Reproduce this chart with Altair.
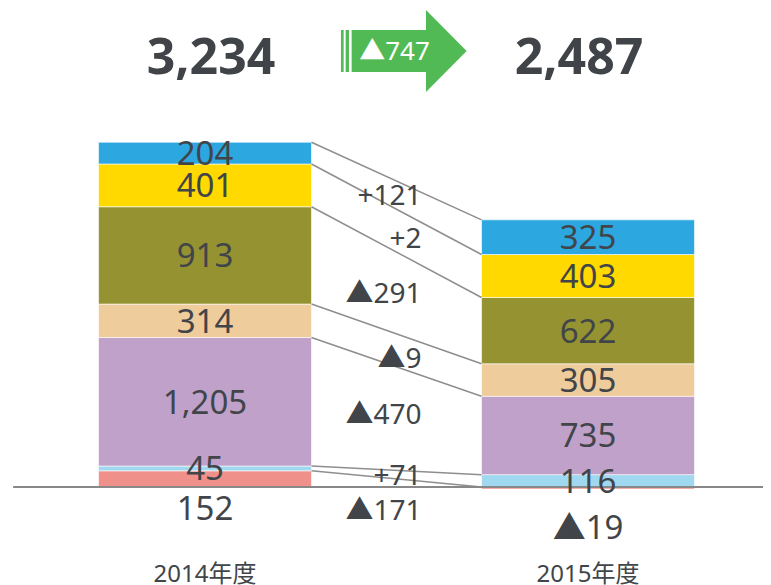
import altair as alt
import pandas as pd

# ---------------- data ----------------
categories = ["2014年度", "2015年度"]
segments = ["seg1", "seg2", "seg3", "seg4", "seg5", "seg6", "seg7"]  # bottom -> top
seg_colors = ["#F0908A", "#A0D8EF", "#C0A1C9", "#EFCC9B", "#959331", "#FFD900", "#2CA7E0"]
values_2014 = [152, 45, 1205, 314, 913, 401, 204]
values_2015 = [-19, 116, 735, 305, 622, 403, 325]

# ---------------- helpers ----------------
FONT = "Noto Sans, Noto Sans CJK JP, sans-serif"
TXT = "#414549"
PX_PER_UNIT = 0.1066          # vertical scale (px per unit), used only for label nudges
HALF = 0.278                  # half bar width in category-index units


def fmt(v, sign=False):
    s = f"{abs(v):,}"
    if v < 0:
        return "▲" + s
    return ("+" + s) if sign else s


series = [values_2014, values_2015]
rows = []
for ci, (cat, vals) in enumerate(zip(categories, series)):
    pos, neg = 0.0, 0.0
    for si, (seg, v) in enumerate(zip(segments, vals)):
        if v >= 0:
            y0, y1 = pos, pos + v
            pos = y1
        else:
            y0, y1 = neg, neg + v
            neg = y1
        rows.append(dict(cat=cat, ci=ci, seg=seg, si=si, v=v, y0=y0, y1=y1,
                         xa=ci - HALF, xb=ci + HALF, mid=(y0 + y1) / 2,
                         top=max(y0, y1), label=fmt(v)))
bars = pd.DataFrame(rows)

# segment labels: bottom segment label sits below the baseline
below_px = {"2014年度": 21, "2015年度": 39.5}
bars["ly"] = bars["mid"]
for cat, px in below_px.items():
    m = (bars["cat"] == cat) & (bars["si"] == 0)
    bars.loc[m, "ly"] = -px / PX_PER_UNIT

# connectors + difference labels
a = bars[bars.ci == 0].set_index("seg")
b = bars[bars.ci == 1].set_index("seg")
nudge_px = {"seg1": 27, "seg3": -5, "seg4": 8, "seg6": 7}
conn = pd.DataFrame({
    "seg": segments,
    "x1": [a.loc[s, "xb"] for s in segments],
    "x2": [b.loc[s, "xa"] for s in segments],
    "y1": [a.loc[s, "top"] for s in segments],
    "y2": [b.loc[s, "top"] for s in segments],
    "dx": [0.5] * len(segments),
    "dy": [(a.loc[s, "mid"] + b.loc[s, "mid"]) / 2 - nudge_px.get(s, 0) / PX_PER_UNIT
           for s in segments],
    "label": [fmt(b.loc[s, "v"] - a.loc[s, "v"], sign=True) for s in segments],
})

totals = [sum(values_2014), sum(values_2015)]
head = pd.DataFrame({"ci": [0, 1], "label": [f"{t:,}" for t in totals]})
change = pd.DataFrame({"x": [0.5], "label": [fmt(totals[1] - totals[0])]})
cats = pd.DataFrame({"ci": [0, 1], "cat": categories})
base = pd.DataFrame({"x": [-0.501], "x2": [1.4569], "y": [0]})

# ---------------- scales ----------------
xs = alt.Scale(domain=[-0.5144, 1.4569], nice=False, zero=False)
ys = alt.Scale(domain=[-919.3, 4493.4], nice=False, zero=False)


def X(f):
    return alt.X(f, type="quantitative", scale=xs, axis=None)


def Y(f):
    return alt.Y(f, type="quantitative", scale=ys, axis=None)


bar_layer = alt.Chart(bars).mark_rect(stroke="white", strokeWidth=0.6).encode(
    x=X("xa"), x2="xb", y=Y("y0"), y2="y1",
    color=alt.Color("seg:N", scale=alt.Scale(domain=segments, range=seg_colors), legend=None),
)

conn_layer = alt.Chart(conn).mark_rule(color="#8E8E8E", strokeWidth=1.5).encode(
    x=X("x1"), x2="x2", y=Y("y1"), y2="y2"
)

base_layer = alt.Chart(base).mark_rule(color="#888888", strokeWidth=2).encode(
    x=X("x"), x2="x2", y=Y("y")
)

seg_text = alt.Chart(bars).mark_text(
    font=FONT, fontSize=33, color=TXT, baseline="middle", dy=2
).encode(x=X("ci"), y=Y("ly"), text="label:N")

diff_text = alt.Chart(conn).mark_text(
    font=FONT, fontSize=28, color=TXT, baseline="middle", align="right", dx=25, dy=2
).encode(x=X("dx"), y=Y("dy"), text="label:N")

head_left = alt.Chart(head[head.ci == 0]).mark_text(
    font=FONT, fontSize=50, fontWeight="bold", color="#404347", baseline="alphabetic", dx=6
).encode(x=X("ci"), y=alt.value(65.5), text="label:N")

head_right = alt.Chart(head[head.ci == 1]).mark_text(
    font=FONT, fontSize=50, fontWeight="bold", color="#404347", baseline="alphabetic", dx=-9
).encode(x=X("ci"), y=alt.value(65.5), text="label:N")

ARROW = ("M-0.848,-0.32 L-0.807,-0.32 L-0.807,0.32 L-0.848,0.32 Z "
         "M-0.776,-0.32 L-0.726,-0.32 L-0.726,0.32 L-0.776,0.32 Z "
         "M-0.685,-0.32 L0.45,-0.32 L0.45,-0.625 L1.071,0 L0.45,0.625 L0.45,0.32 L-0.685,0.32 Z")

arrow = alt.Chart(change).mark_point(
    shape=ARROW, filled=True, color="#52BA55", opacity=1, size=17161, strokeWidth=0
).encode(x=X("x"), y=alt.value(43))

arrow_text = alt.Chart(change).mark_text(
    font=FONT, fontSize=26, color="white", baseline="middle", dx=-2
).encode(x=X("x"), y=alt.value(44), text="label:N")

cat_text = alt.Chart(cats).mark_text(
    font=FONT, fontSize=24, color=TXT, baseline="alphabetic"
).encode(x=X("ci"), y=alt.value(574), text="cat:N")

chart = alt.layer(
    bar_layer, conn_layer, base_layer, seg_text, diff_text,
    head_left, head_right, arrow, arrow_text, cat_text
).properties(
    width=755, height=577, autosize=alt.AutoSizeParams(type="none"),
    padding={"left": 0, "top": 0, "right": 0, "bottom": 0}
).configure_view(stroke=None)

chart.save("out.html", embed_options={"renderer": "svg", "actions": False})
